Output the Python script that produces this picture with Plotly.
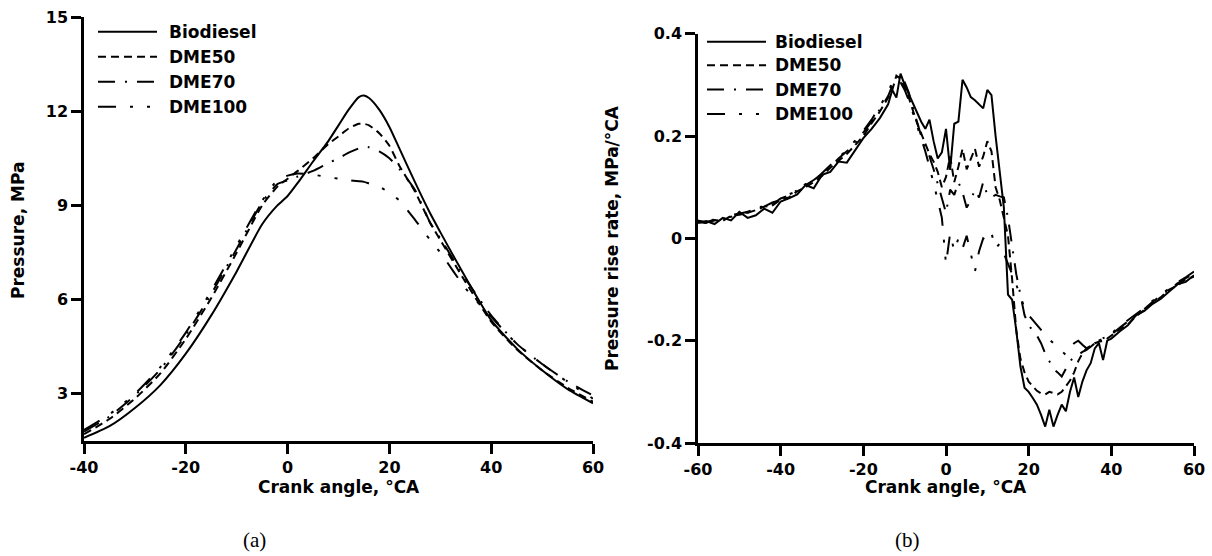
import plotly.graph_objects as go

# ---------------- data ----------------
series_names = ["Biodiesel", "DME50", "DME70", "DME100"]

# (a) cylinder pressure, MPa
crank_a = [-40, -35, -30, -25, -20, -15, -10, -5, -2, 0, 2, 5, 8, 10, 12, 14, 15, 16, 18, 20,
           22, 25, 28, 30, 35, 40, 45, 50, 55, 60]
p_bio = [1.6, 1.97, 2.55, 3.28, 4.28, 5.5, 6.9, 8.4, 9.0, 9.3, 9.72, 10.4, 11.05, 11.55, 12.05, 12.45, 12.5, 12.42, 12.05, 11.5,
         10.8, 9.75, 8.75, 8.15, 6.7, 5.35, 4.45, 3.75, 3.15, 2.7]
p_dme50 = [1.72, 2.2, 2.85, 3.65, 4.75, 6.05, 7.5, 9.0, 9.6, 9.85, 10.1, 10.5, 10.95, 11.2, 11.45, 11.6, 11.6, 11.55, 11.3, 10.9,
           10.25, 9.45, 8.45, 7.9, 6.55, 5.3, 4.42, 3.75, 3.2, 2.75]
p_dme70 = [1.8, 2.28, 2.95, 3.78, 4.88, 6.18, 7.62, 9.1, 9.68, 9.8, 9.92, 10.1, 10.35, 10.5, 10.68, 10.82, 10.87, 10.85, 10.72, 10.5,
           10.15, 9.5, 8.45, 7.95, 6.65, 5.5, 4.6, 3.95, 3.4, 2.95]
p_dme100 = [1.85, 2.35, 3.0, 3.85, 4.95, 6.28, 7.72, 9.15, 9.8, 9.95, 10.02, 9.98, 9.9, 9.85, 9.8, 9.77, 9.75, 9.7, 9.6, 9.4,
            9.15, 8.55, 7.9, 7.5, 6.35, 5.45, 4.6, 3.95, 3.38, 2.85]

# (b) pressure rise rate, MPa/°CA
crank_b = [-60, -58, -56, -54, -52, -50, -48, -46, -44, -42, -40, -38, -36, -34, -32, -30, -28, -26, -24, -22,
           -20, -18, -16, -14,
           -13, -12, -11, -10, -9, -8, -7, -6, -5, -4,
           -3, -2, -1, 0, 1, 2, 3, 4, 5, 6,
           7, 8, 9, 10, 11, 12, 13, 14, 15, 16,
           17, 18, 19, 20, 21, 22, 23, 24, 25, 26,
           27, 28, 29, 30, 31, 32, 33, 34, 35, 36,
           37, 38, 39, 40,
           42, 44, 46, 48, 50, 52, 54, 56, 58, 60]
r_bio = [0.030, 0.034, 0.028, 0.040, 0.035, 0.052, 0.040, 0.045, 0.058, 0.050, 0.072, 0.078, 0.086, 0.104, 0.098, 0.124, 0.130, 0.150, 0.148, 0.172,
         0.196, 0.214, 0.235, 0.262,
         0.290, 0.275, 0.322, 0.300, 0.282, 0.262, 0.244, 0.228, 0.214, 0.232,
         0.190, 0.156, 0.168, 0.214, 0.134, 0.224, 0.228, 0.310, 0.295, 0.276,
         0.270, 0.262, 0.254, 0.290, 0.280, 0.200, 0.130, 0.060, -0.110, -0.120,
         -0.180, -0.250, -0.292, -0.300, -0.312, -0.325, -0.345, -0.368, -0.335, -0.368,
         -0.345, -0.325, -0.338, -0.300, -0.272, -0.310, -0.280, -0.258, -0.244, -0.215,
         -0.205, -0.238, -0.200, -0.196,
         -0.182, -0.170, -0.150, -0.142, -0.128, -0.118, -0.104, -0.090, -0.085, -0.072]
r_dme50 = [0.032, 0.030, 0.036, 0.034, 0.044, 0.046, 0.050, 0.055, 0.062, 0.064, 0.076, 0.080, 0.092, 0.100, 0.110, 0.122, 0.138, 0.152, 0.165, 0.182,
           0.200, 0.225, 0.248, 0.275,
           0.290, 0.318, 0.312, 0.295, 0.275, 0.250, 0.225, 0.205, 0.185, 0.165,
           0.150, 0.130, 0.100, 0.120, 0.160, 0.110, 0.140, 0.175, 0.135, 0.155,
           0.175, 0.140, 0.160, 0.190, 0.170, 0.100, 0.075, 0.040, 0.005, -0.080,
           -0.180, -0.235, -0.262, -0.280, -0.290, -0.298, -0.303, -0.305, -0.300, -0.302,
           -0.305, -0.300, -0.290, -0.278, -0.262, -0.240, -0.225, -0.215, -0.210, -0.205,
           -0.202, -0.200, -0.196, -0.190,
           -0.178, -0.168, -0.152, -0.140, -0.126, -0.115, -0.100, -0.092, -0.080, -0.075]
r_dme70 = [0.035, 0.030, 0.038, 0.036, 0.046, 0.048, 0.052, 0.058, 0.064, 0.066, 0.078, 0.084, 0.094, 0.104, 0.114, 0.126, 0.140, 0.156, 0.170, 0.186,
           0.206, 0.228, 0.252, 0.278,
           0.298, 0.310, 0.320, 0.305, 0.285, 0.255, 0.225, 0.200, 0.180, 0.160,
           0.135, 0.105, 0.080, 0.050, 0.095, 0.085, 0.110, 0.090, 0.060, 0.075,
           0.095, 0.080, 0.110, 0.085, 0.080, 0.085, 0.082, 0.080, 0.040, -0.020,
           -0.070, -0.110, -0.150, -0.170, -0.180, -0.190, -0.205, -0.225, -0.240, -0.255,
           -0.262, -0.270, -0.255, -0.240, -0.232, -0.228, -0.222, -0.218, -0.212, -0.205,
           -0.200, -0.195, -0.192, -0.188,
           -0.175, -0.162, -0.150, -0.138, -0.124, -0.112, -0.100, -0.088, -0.078, -0.068]
r_dme100 = [0.034, 0.032, 0.035, 0.040, 0.042, 0.050, 0.050, 0.060, 0.062, 0.070, 0.075, 0.086, 0.092, 0.106, 0.112, 0.128, 0.142, 0.158, 0.172, 0.190,
            0.210, 0.232, 0.258, 0.285,
            0.305, 0.312, 0.305, 0.290, 0.270, 0.245, 0.220, 0.195, 0.170, 0.140,
            0.110, 0.075, 0.040, -0.050, 0.010, -0.025, 0.000, -0.020, 0.005, -0.030,
            -0.065, -0.025, 0.000, -0.005, 0.010, -0.020, -0.010, -0.030, -0.050, -0.070,
            -0.090, -0.115, -0.135, -0.150, -0.160, -0.170, -0.180, -0.190, -0.198, -0.205,
            -0.212, -0.220, -0.228, -0.215, -0.205, -0.200, -0.208, -0.215, -0.212, -0.208,
            -0.200, -0.196, -0.190, -0.186,
            -0.172, -0.160, -0.148, -0.136, -0.122, -0.110, -0.098, -0.086, -0.076, -0.065]

ticks_a_x = [-40, -20, 0, 20, 40, 60]
ticks_a_y = [3, 6, 9, 12, 15]
ticks_b_x = [-60, -40, -20, 0, 20, 40, 60]
ticks_b_y = [-0.4, -0.2, 0, 0.2, 0.4]
ticks_b_y_text = ["-0.4", "-0.2", "0", "0.2", "0.4"]

# ---------------- styling ----------------
W, H = 1212, 556
def px(x):
    return x / W
def py(y):
    return 1 - y / H

dashes = ["solid", "8px,5px", "17px,10px,2px,10px", "18px,14px,3px,14px,3px,14px"]
FONT = "DejaVu Sans"
LW = 2

fig = go.Figure()
for name, ys, d in zip(series_names, [p_bio, p_dme50, p_dme70, p_dme100], dashes):
    fig.add_trace(go.Scatter(x=crank_a, y=ys, mode="lines", name=name, showlegend=False,
                             line=dict(color="black", width=LW, dash=d, shape="spline", smoothing=0.6),
                             xaxis="x", yaxis="y"))
for name, ys, d in zip(series_names, [r_bio, r_dme50, r_dme70, r_dme100], dashes):
    fig.add_trace(go.Scatter(x=crank_b, y=ys, mode="lines", name=name, showlegend=False,
                             line=dict(color="black", width=LW, dash=d),
                             xaxis="x2", yaxis="y2"))

axis_common = dict(showline=True, linecolor="black", linewidth=2.5, ticks="outside", ticklen=10,
                   tickwidth=2.5, tickcolor="black", showgrid=False, zeroline=False, automargin=False,
                   tickfont=dict(family=FONT, size=16, color="black", weight="bold"))

fig.update_layout(
    template="none",
    width=W, height=H, margin=dict(l=0, r=0, t=0, b=0, pad=0), autosize=False,
    paper_bgcolor="white", plot_bgcolor="white", showlegend=False,
    xaxis=dict(domain=[px(84), px(593)], range=[-40, 60], tickvals=ticks_a_x,
               ticktext=[str(v) for v in ticks_a_x], anchor="y", **axis_common),
    yaxis=dict(domain=[py(441), py(17)], range=[1.5, 15], tickvals=ticks_a_y, anchor="x", **axis_common),
    xaxis2=dict(domain=[px(698), px(1194)], range=[-60, 60], tickvals=ticks_b_x,
                ticktext=[str(v) for v in ticks_b_x], anchor="y2", **axis_common),
    yaxis2=dict(domain=[py(443), py(33.7)], range=[-0.4, 0.4], tickvals=ticks_b_y,
                ticktext=ticks_b_y_text, anchor="x2", **axis_common),
)

tfont = dict(family=FONT, size=17, color="black", weight="bold")
ann = []
ann.append(dict(text="Crank angle, °CA", x=px(339), y=py(487), xref="paper", yref="paper",
                showarrow=False, xanchor="center", yanchor="middle", font=tfont))
ann.append(dict(text="Crank angle, °CA", x=px(946), y=py(487), xref="paper", yref="paper",
                showarrow=False, xanchor="center", yanchor="middle", font=tfont))
ann.append(dict(text="Pressure, MPa", x=px(18), y=py(231), xref="paper", yref="paper", textangle=-90,
                showarrow=False, xanchor="center", yanchor="middle", font=tfont))
ann.append(dict(text="Pressure rise rate, MPa/°CA", x=px(612), y=py(238), xref="paper", yref="paper",
                textangle=-90, showarrow=False, xanchor="center", yanchor="middle", font=tfont))
sfont = dict(family="Liberation Serif", size=21, color="black")
ann.append(dict(text="(a)", x=px(254), y=py(540), xref="paper", yref="paper", showarrow=False,
                xanchor="center", yanchor="middle", font=sfont))
ann.append(dict(text="(b)", x=px(907), y=py(540), xref="paper", yref="paper", showarrow=False,
                xanchor="center", yanchor="middle", font=sfont))

# manual legends (long line samples like the original)
shapes = []
legends = [
    dict(x0=98, x1=157, tx=167, rows=[31.7, 56.7, 81.7, 106.7]),
    dict(x0=707, x1=766, tx=773, rows=[41.7, 65.3, 89.5, 114.0]),
]
for lg in legends:
    for name, d, yy in zip(series_names, dashes, lg["rows"]):
        shapes.append(dict(type="line", xref="paper", yref="paper",
                           x0=px(lg["x0"]), x1=px(lg["x1"]), y0=py(yy), y1=py(yy),
                           line=dict(color="black", width=LW, dash=d)))
        ann.append(dict(text=name, x=px(lg["tx"]), y=py(yy), xref="paper", yref="paper",
                        showarrow=False, xanchor="left", yanchor="middle", font=tfont))

fig.update_layout(annotations=ann, shapes=shapes)
fig.write_html("out.html")
